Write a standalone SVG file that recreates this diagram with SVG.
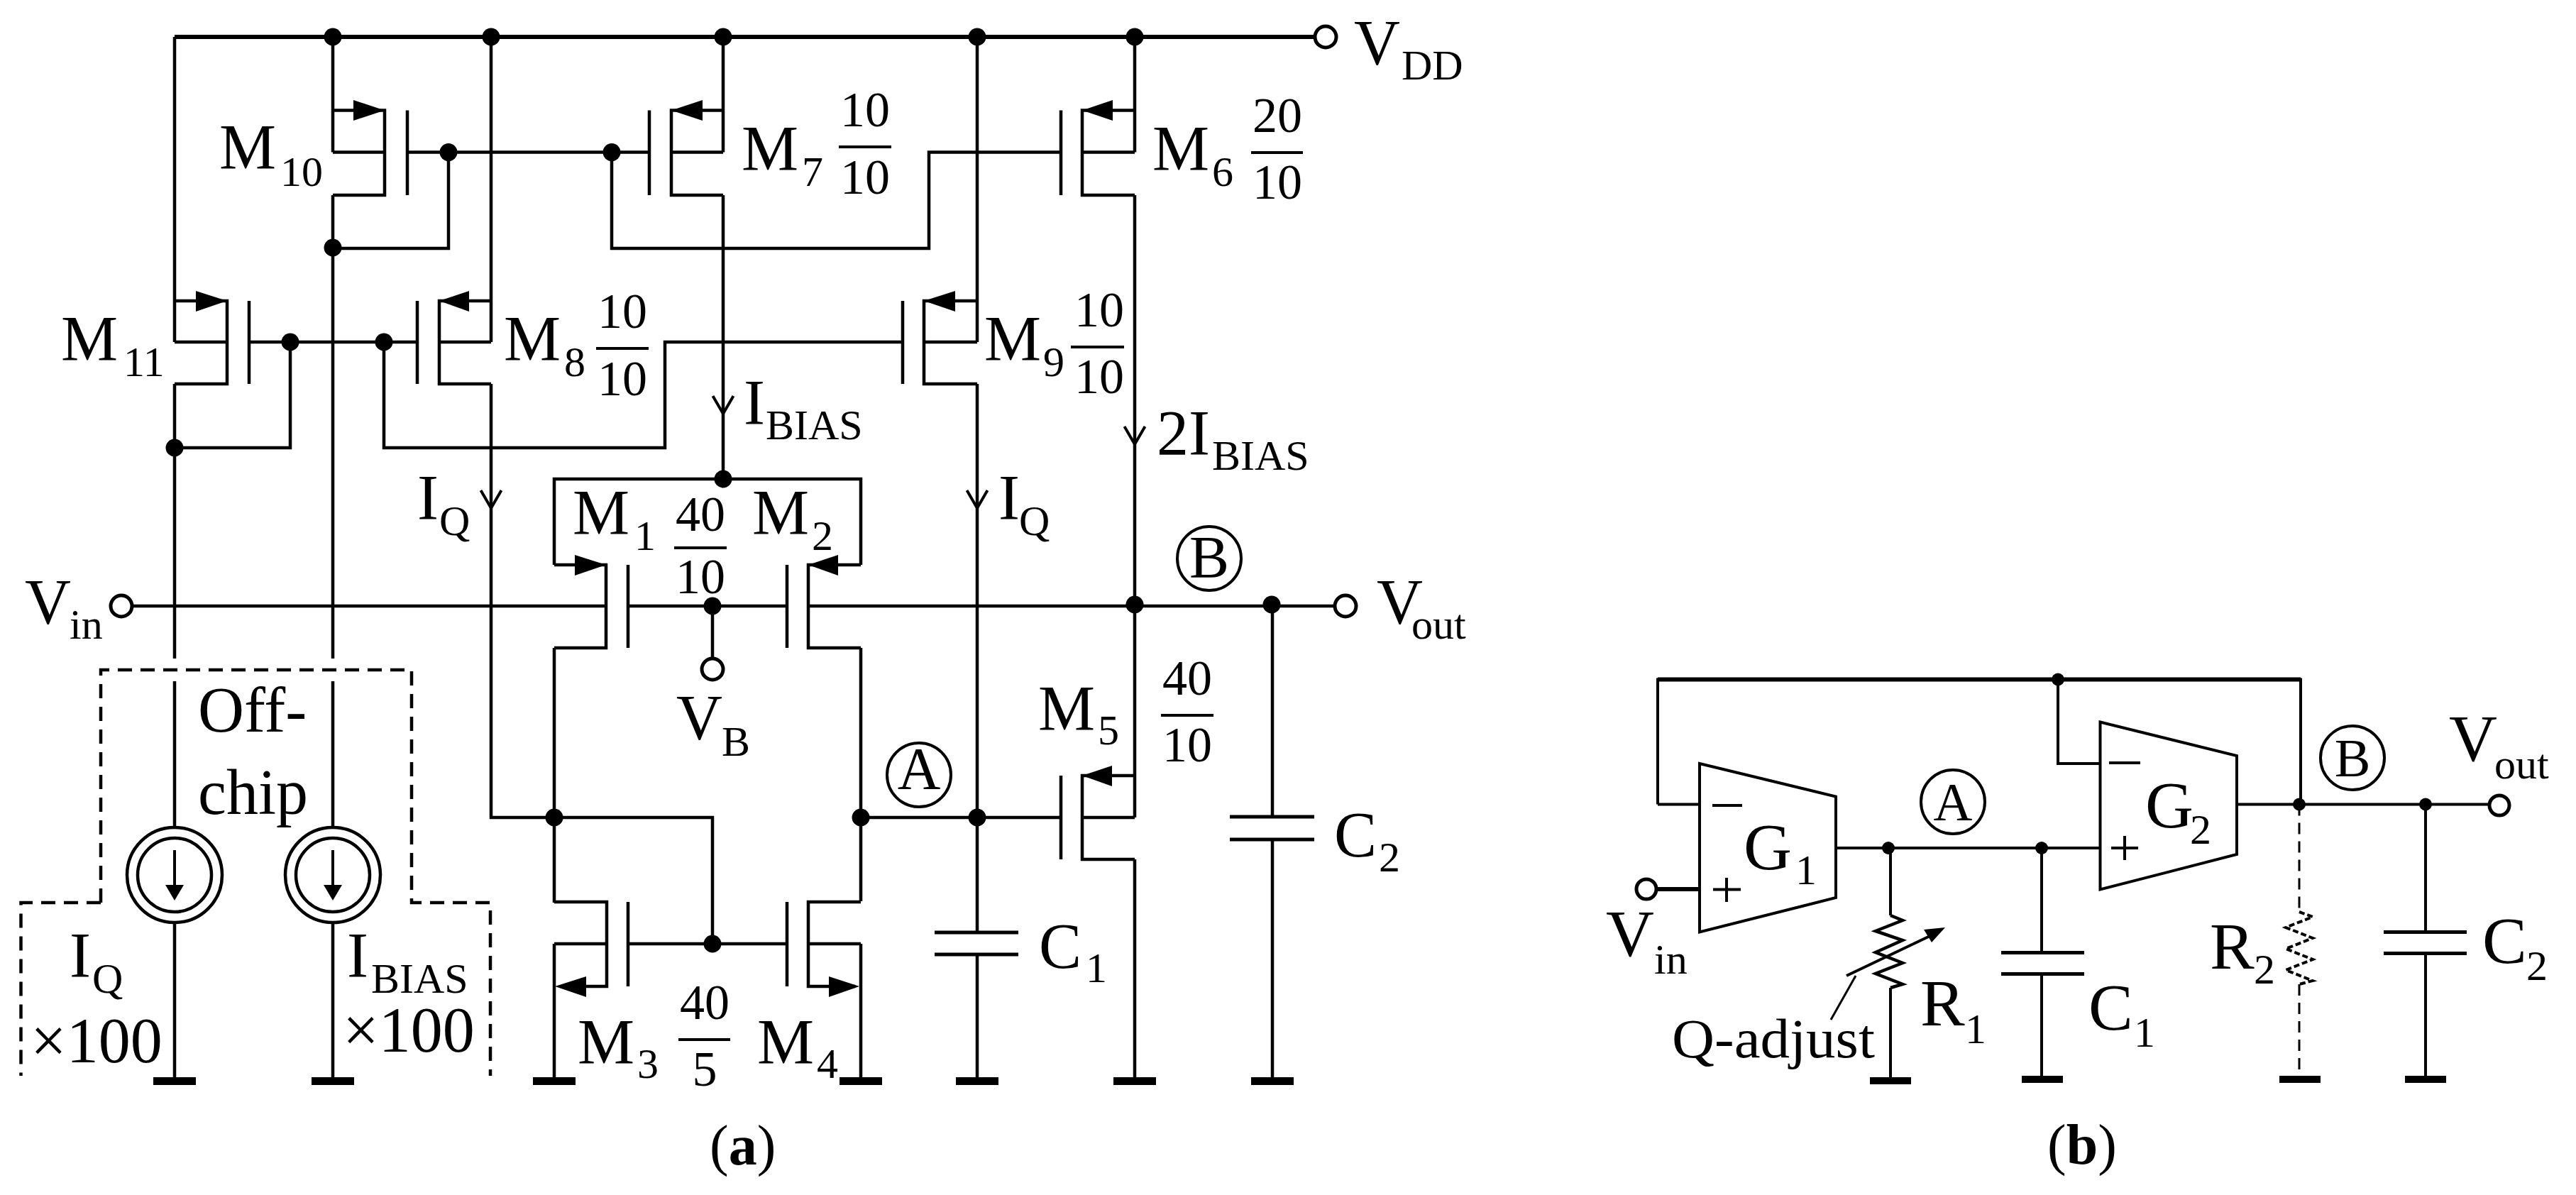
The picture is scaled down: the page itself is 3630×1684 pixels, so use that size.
<svg xmlns="http://www.w3.org/2000/svg" width="3630" height="1684" viewBox="0 0 3630 1684">
<style>
text{font-family:"Liberation Serif","Times New Roman",serif;font-size:90px;fill:#000}
.s{font-size:60px}
.f{font-size:70px;text-anchor:middle}
.c{text-anchor:middle}
.l{font-size:94px}
.w{fill:none;stroke:#000;stroke-width:4.5}
.t{fill:none;stroke:#000;stroke-width:4}
.d{fill:none;stroke:#000;stroke-width:4.5;stroke-dasharray:20 12}
.p{fill:none;stroke:#000;stroke-width:5}
.o{fill:#fff;stroke:#000;stroke-width:5}
.n{fill:none;stroke:#000;stroke-width:4}
.b{font-weight:bold}
</style>
<defs>
<circle id="dot" r="12.5" fill="#000"/>
<circle id="dotb" r="9" fill="#000"/>
<rect id="gnd" x="-30" y="-5" width="60" height="11" fill="#000"/>
<rect id="gndb" x="-29" y="-5" width="58" height="10" fill="#000"/>
<path id="opn" d="M-14.5 -25L0 0L14.5 -25" fill="none" stroke="#000" stroke-width="4"/>
<g id="isrc">
<circle r="67" class="w" fill="#fff"/><circle r="52" class="w"/>
<path d="M0 -35V20" stroke="#000" stroke-width="4"/><path d="M-13 14H13L0 36Z" fill="#000"/>
</g>
</defs>

<g id="connectors">
<path class="w" style="stroke-width:6" d="M246 52H1853"/>
<path class="w" d="M246 52V482M246 541V928M246 960V1166M246 1300V1523"/>
<path class="w" d="M469 52V214.6M469 275V928M469 960V1166M469 1300V1523"/>
<path class="w" d="M692 52V482M692 541V1152H1004V1330"/>
<path class="w" d="M1019 52V214.6M1019 275V675"/>
<path class="w" d="M1377 52V482M1377 541V1315M1377 1345V1523"/>
<path class="w" d="M1599 52V214.6M1599 275V1152M1599 1211V1523"/>
<path class="w" d="M574 214.6H915M632 214.6V350H469M862 214.6V350H1309V214.6H1495"/>
<path class="w" d="M351 482H588M409 482V631H246M541 482V631H937V482H1272"/>
<path class="w" d="M781 796V675H1213V796"/>
<path class="w" d="M186 854H854M885 854H1109M1139 854H1881M1004 854V928"/>
<path class="w" d="M781 913V1272M1213 913V1270M781 1330V1523M1213 1330V1523"/>
<path class="w" d="M885 1330H1109M1213 1152H1495M1793 854V1151M1793 1183V1523"/>
<path class="d" d="M142 1272V944H580V1272H691V1516M142 1272H29.5V1516"/>
<use href="#opn" x="692" y="716"/><use href="#opn" x="1019" y="583"/><use href="#opn" x="1599" y="626"/><use href="#opn" x="1377" y="716"/>
<g id="dots-a">
<use href="#dot" x="469" y="52"/><use href="#dot" x="692" y="52"/><use href="#dot" x="1019" y="52"/><use href="#dot" x="1377" y="52"/><use href="#dot" x="1599" y="52"/>
<use href="#dot" x="632" y="214.6"/><use href="#dot" x="862" y="214.6"/><use href="#dot" x="469" y="349"/>
<use href="#dot" x="409" y="482"/><use href="#dot" x="541" y="482"/><use href="#dot" x="246" y="631"/><use href="#dot" x="1019" y="675"/>
<use href="#dot" x="1004" y="854"/><use href="#dot" x="1599" y="852"/><use href="#dot" x="1792" y="852"/>
<use href="#dot" x="781" y="1152"/><use href="#dot" x="1213" y="1152"/><use href="#dot" x="1377" y="1152"/><use href="#dot" x="1004" y="1330"/>
</g>
<g id="gnds-a">
<use href="#gnd" x="246" y="1523"/><use href="#gnd" x="469" y="1523"/><use href="#gnd" x="781" y="1523"/><use href="#gnd" x="1213" y="1523"/><use href="#gnd" x="1377" y="1523"/><use href="#gnd" x="1599" y="1523"/><use href="#gnd" x="1793" y="1523"/>
</g>
<path class="t" d="M2336 1133.5V957.5H3242V1133.5"/>
<path class="t" style="stroke-width:6" d="M2336 957.5H3242"/>
<path class="t" d="M2336 1133.5H2395M2900 957.5V1076H2959.5"/>
<path class="t" style="stroke-width:6" d="M2334 1253H2395"/>
<path class="t" d="M2587 1195H2959.5M3152 1133.5H3508"/>
<path class="t" d="M2664 1195V1290M2664 1392V1522M2877 1195V1342M2877 1372V1522M3418 1133.5V1313M3418 1343V1522"/>
<path class="d" style="stroke-width:3;stroke-dasharray:16 10" d="M3240 1133.5V1285M3240 1387V1525"/>
<g id="dots-b">
<use href="#dotb" x="2900" y="957.5"/><use href="#dotb" x="2661" y="1195"/><use href="#dotb" x="2877" y="1195"/><use href="#dotb" x="3240" y="1133.5"/><use href="#dotb" x="3418" y="1133.5"/>
</g>
<g id="gnds-b">
<use href="#gndb" x="2664" y="1523"/><use href="#gndb" x="2878" y="1521"/><use href="#gndb" x="3241" y="1521"/><use href="#gndb" x="3418" y="1521"/>
</g>
</g>

<g id="M10"><path class="w" d="M469 155.5H542V275H469M469 214.6H542M574 155.5V275"/><path d="M542 155.5L498 141V170Z"/><text x="309" y="238">M<tspan class="s" x="395" y="262">10</tspan></text></g>
<g id="M7"><path class="w" d="M1019 155.5H946V275H1019M946 214.6H1019M915 155.5V275"/><path d="M946 155.5L990 141V170Z"/><text x="1045" y="240">M<tspan class="s" x="1130" y="262">7</tspan></text>
<path class="n" d="M1182 207H1256"/><text class="f" x="1219" y="178">10</text><text class="f" x="1219" y="273">10</text></g>
<g id="M6"><path class="w" d="M1599 155.5H1525V275H1599M1525 214.6H1599M1495 155.5V275"/><path d="M1525 155.5L1568 141V170Z"/><text x="1624" y="240">M<tspan class="s" x="1708" y="262">6</tspan></text>
<path class="n" d="M1763 215H1836"/><text class="f" x="1800" y="186">20</text><text class="f" x="1800" y="280">10</text></g>
<g id="M11"><path class="w" d="M246 424H320V541H246M246 482H320M351 424V541"/><path d="M320 424L276 410V439Z"/><text x="86" y="508">M<tspan class="s" x="174" y="530">11</tspan></text></g>
<g id="M8"><path class="w" d="M692 424H619V541H692M619 482H692M588 424V541"/><path d="M619 424L661 410V439Z"/><text x="710" y="508">M<tspan class="s" x="795" y="530">8</tspan></text>
<path class="n" d="M840 491H914"/><text class="f" x="877" y="462">10</text><text class="f" x="877" y="557">10</text></g>
<g id="M9"><path class="w" d="M1377 424H1302V541H1377M1302 482H1377M1272 424V541"/><path d="M1302 424L1346 410V439Z"/><text x="1387" y="508">M<tspan class="s" x="1470" y="530">9</tspan></text>
<path class="n" d="M1509 489H1584"/><text class="f" x="1549" y="460">10</text><text class="f" x="1549" y="554">10</text></g>
<g id="M1"><path class="w" d="M781 796H854V913H781M885 796V913"/><path d="M854 796L810 782V811Z"/><text x="807" y="753">M<tspan class="s" x="894" y="775">1</tspan></text>
<path class="n" d="M950 772H1024"/><text class="f" x="987" y="748">40</text><text class="f" x="987" y="836">10</text></g>
<g id="M2"><path class="w" d="M1213 796H1139V913H1213M1109 796V913"/><path d="M1139 796L1181 782V811Z"/><text x="1060" y="753">M<tspan class="s" x="1144" y="775">2</tspan></text></g>
<g id="M3"><path class="w" d="M781 1271H855V1390H790M781 1330H855M885 1271V1390"/><path d="M782 1390L826 1376V1405Z"/><text x="814" y="1499">M<tspan class="s" x="898" y="1519">3</tspan></text>
<path class="n" d="M956 1465H1029"/><text class="f" x="993" y="1436">40</text><text class="f" x="993" y="1530">5</text></g>
<g id="M4"><path class="w" d="M1213 1271H1139V1390H1205M1139 1330H1213M1109 1271V1390"/><path d="M1211 1390L1168 1376V1405Z"/><text x="1067" y="1499">M<tspan class="s" x="1151" y="1519">4</tspan></text></g>
<g id="M5"><path class="w" d="M1599 1093H1525V1211H1599M1525 1152H1599M1495 1093V1211"/><path d="M1525 1093L1567 1079V1108Z"/><text x="1463" y="1029">M<tspan class="s" x="1547" y="1049">5</tspan></text>
<path class="n" d="M1636 1008H1710"/><text class="f" x="1673" y="979">40</text><text class="f" x="1673" y="1073">10</text></g>

<g id="VDD"><circle class="o" cx="1868" cy="52" r="15"/><text x="1908" y="91">V<tspan class="s" x="1975" y="112">DD</tspan></text></g>
<g id="Vin"><circle class="o" cx="171" cy="854" r="15"/><text x="35" y="879">V<tspan class="s" x="98" y="900">in</tspan></text></g>
<g id="Vout"><circle class="o" cx="1896" cy="854" r="15"/><text x="1940" y="879">V<tspan class="s" x="1989" y="900">out</tspan></text></g>
<g id="VB"><circle class="o" cx="1004" cy="943" r="15"/><text x="953" y="1042">V<tspan class="s" x="1017" y="1065">B</tspan></text></g>
<g id="nodeB"><circle class="n" cx="1704" cy="787" r="45"/><text class="c" style="font-size:84px" x="1704" y="814">B</text></g>
<g id="nodeA"><circle class="n" cx="1295" cy="1092" r="45"/><text class="c" style="font-size:84px" x="1295" y="1112">A</text></g>
<g id="C1"><path class="p" d="M1317 1314H1435M1317 1345H1435"/><text x="1464" y="1364">C<tspan class="s" x="1530" y="1384">1</tspan></text></g>
<g id="C2"><path class="p" d="M1733 1151H1852M1733 1183H1852"/><text x="1880" y="1207">C<tspan class="s" x="1943" y="1228">2</tspan></text></g>
<g id="labels-a">
<text x="1048" y="598">I<tspan class="s" x="1079" y="619">BIAS</tspan></text>
<text x="1630" y="641">2I<tspan class="s" x="1708" y="662">BIAS</tspan></text>
<text x="588" y="732">I<tspan class="s" x="619" y="754">Q</tspan></text>
<text x="1407" y="732">I<tspan class="s" x="1436" y="754">Q</tspan></text>
<text x="279" y="1031">Off-</text>
<text x="279" y="1147">chip</text>
<text x="98" y="1377">I<tspan class="s" x="130" y="1399">Q</tspan></text>
<text x="43" y="1497">×100</text>
<text x="489" y="1377">I<tspan class="s" x="523" y="1399">BIAS</tspan></text>
<text x="483" y="1482">×100</text>
<text x="1000" y="1641" style="font-size:80px">(<tspan class="b">a</tspan>)</text>
</g>
<g id="Iq-source"><use href="#isrc" x="246" y="1233"/></g>
<g id="Ibias-source"><use href="#isrc" x="469" y="1233"/></g>

<g id="G1"><path class="t" fill="#fff" d="M2395 1076L2587 1122.5V1265L2395 1313.5Z"/><text class="l" x="2457" y="1225">G<tspan class="s" x="2530" y="1246">1</tspan></text><path class="n" d="M2413 1135H2455M2414 1253.5H2453M2433 1237V1271"/></g>
<g id="G2"><path class="t" fill="#fff" d="M2959.5 1017.5L3152 1065V1204L2959.5 1253.5Z"/><text class="l" x="3023" y="1166">G<tspan class="s" x="3086" y="1189">2</tspan></text><path class="n" d="M2972 1075H3016M2975 1195H3013M2994 1178V1212"/></g>
<g id="R1"><path class="w" d="M2664 1290L2681 1297L2643 1312L2681 1325L2643 1342L2681 1357L2643 1372L2681 1387L2664 1392"/>
<path class="t" d="M2602 1375L2728 1315"/><path d="M2741 1307L2711 1310L2722 1328Z"/><path class="n" style="stroke-width:3" d="M2615 1375L2580 1437"/>
<text class="l" x="2706" y="1445">R<tspan class="s" x="2769" y="1470">1</tspan></text>
<text x="2356" y="1490" textLength="286" lengthAdjust="spacingAndGlyphs" style="font-size:78px">Q-adjust</text></g>
<g id="R2"><path class="w" style="stroke-width:4;stroke-dasharray:8 4" d="M3240 1285L3259 1292L3221 1307L3259 1322L3221 1337L3259 1352L3221 1367L3259 1382L3240 1387"/><text class="l" x="3114" y="1365">R<tspan class="s" x="3176" y="1386">2</tspan></text></g>
<g id="C1b"><path class="p" d="M2820 1342.5H2937M2820 1372.5H2937"/><text class="l" x="2943" y="1451">C<tspan class="s" x="3007" y="1475">1</tspan></text></g>
<g id="C2b"><path class="p" d="M3359 1313.5H3476M3359 1343.5H3476"/><text class="l" x="3498" y="1357">C<tspan class="s" x="3560" y="1381">2</tspan></text></g>
<g id="Vinb"><circle class="o" cx="2320" cy="1253" r="14"/><text class="l" x="2263" y="1347">V<tspan class="s" x="2331" y="1372">in</tspan></text></g>
<g id="Voutb"><circle class="o" cx="3522" cy="1135" r="14"/><text class="l" x="3451" y="1072">V<tspan class="s" x="3515" y="1097">out</tspan></text></g>
<g id="nodeAb"><circle class="n" cx="2752" cy="1130" r="45"/><text class="c" style="font-size:76px" x="2752" y="1156">A</text></g>
<g id="nodeBb"><circle class="n" cx="3315" cy="1068" r="45"/><text class="c" style="font-size:76px" x="3315" y="1094">B</text></g>
<text x="2885" y="1640" style="font-size:80px">(<tspan class="b">b</tspan>)</text>
</svg>
